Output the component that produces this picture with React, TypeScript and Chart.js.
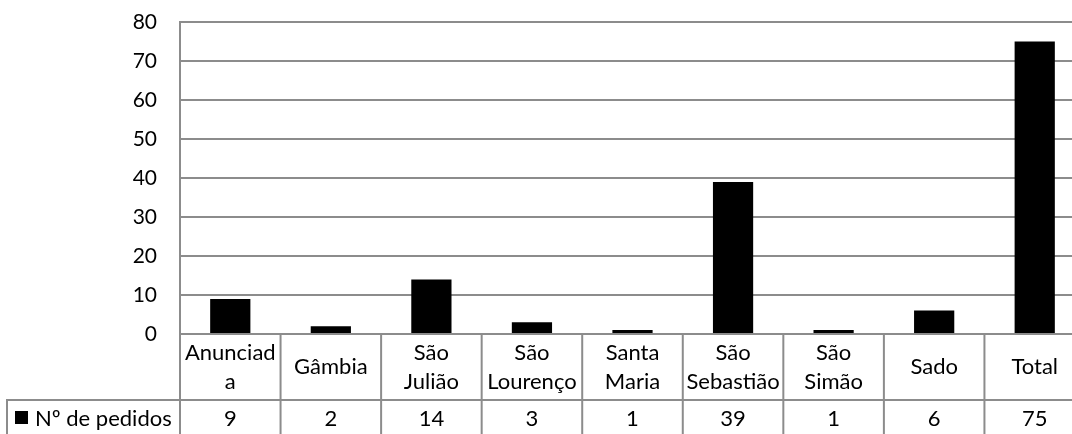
import React, { useEffect, useRef } from "react";
import { Chart, registerables } from "chart.js";

Chart.register(...registerables);

const categories: string[][] = [
  ["Anunciad", "a"],
  ["Gâmbia"],
  ["São", "Julião"],
  ["São", "Lourenço"],
  ["Santa", "Maria"],
  ["São", "Sebastião"],
  ["São", "Simão"],
  ["Sado"],
  ["Total"],
];
const seriesName = "Nº de pedidos";
const values = [9, 2, 14, 3, 1, 39, 1, 6, 75];
const yMin = 0;
const yMax = 80;
const yStep = 10;

const FONT = "Lato, 'Open Sans', sans-serif";
const FS = 21;
const TFS = 22;
const GRID = "#8c8c8c";

const tablePlugin = {
  id: "dataTable",
  afterDraw(chart: any) {
    const ctx = chart.ctx as CanvasRenderingContext2D;
    const xs = chart.scales.x;
    const area = chart.chartArea;
    const H = chart.height;
    const half = (xs.getPixelForValue(1) - xs.getPixelForValue(0)) / 2;
    const headerTop = area.bottom;
    const headerBottom = headerTop + 66;
    const legendLeft = 7;

    ctx.save();
    ctx.strokeStyle = GRID;
    ctx.lineWidth = 2;
    ctx.beginPath();
    const bounds: number[] = [area.left];
    for (let i = 0; i < categories.length; i++) {
      bounds.push(xs.getPixelForValue(i) + half);
    }
    bounds.forEach((b) => {
      ctx.moveTo(b, headerTop);
      ctx.lineTo(b, H + 5);
    });
    ctx.moveTo(legendLeft, headerBottom);
    ctx.lineTo(chart.width, headerBottom);
    ctx.moveTo(legendLeft, headerBottom - 1);
    ctx.lineTo(legendLeft, H + 5);
    ctx.stroke();

    ctx.fillStyle = "#000";
    ctx.font = `${TFS}px ${FONT}`;
    ctx.textAlign = "center";
    ctx.textBaseline = "middle";
    const headerMid = (headerTop + headerBottom) / 2;
    const lh = 29;
    categories.forEach((lines, i) => {
      const cx = xs.getPixelForValue(i);
      const start = headerMid - ((lines.length - 1) * lh) / 2;
      lines.forEach((ln, j) => ctx.fillText(ln, cx, start + j * lh));
    });
    const rowMid = headerBottom + 19;
    values.forEach((v, i) => {
      ctx.fillText(String(v), xs.getPixelForValue(i), rowMid);
    });
    ctx.fillRect(15, rowMid - 8, 13, 13);
    ctx.textAlign = "left";
    ctx.fillText(seriesName, 35, rowMid);
    ctx.restore();
  },
};

export default function App() {
  const ref = useRef<HTMLCanvasElement>(null);
  useEffect(() => {
    if (!ref.current) return;
    const chart = new Chart(ref.current, {
      type: "bar",
      data: {
        labels: categories.map((c) => c.join(" ")),
        datasets: [
          {
            label: seriesName,
            data: values,
            backgroundColor: "#000",
            borderWidth: 0,
            barPercentage: 0.4,
            categoryPercentage: 1,
          },
        ],
      },
      options: {
        animation: false,
        responsive: false,
        devicePixelRatio: 1,
        layout: { padding: { top: 22, bottom: 100, right: 15, left: 0 } },
        plugins: { legend: { display: false }, tooltip: { enabled: false } },
        scales: {
          x: { display: false },
          y: {
            min: yMin,
            max: yMax,
            afterFit: (s: any) => {
              s.width = 180;
            },
            ticks: {
              stepSize: yStep,
              padding: 0,
              color: "#000",
              font: { family: FONT, size: FS },
            },
            grid: {
              color: GRID,
              lineWidth: 2,
              drawTicks: true,
              tickLength: 23,
              tickColor: "rgba(0,0,0,0)",
            },
            border: { color: GRID, width: 2 },
          },
        },
      },
      plugins: [tablePlugin],
    });
    return () => chart.destroy();
  }, []);
  return (
    <div
      style={{
        position: "absolute",
        left: 0,
        top: 0,
        width: 1072,
        height: 434,
        overflow: "hidden",
        background: "#fff",
      }}
    >
      <canvas ref={ref} width={1100} height={434} />
    </div>
  );
}
